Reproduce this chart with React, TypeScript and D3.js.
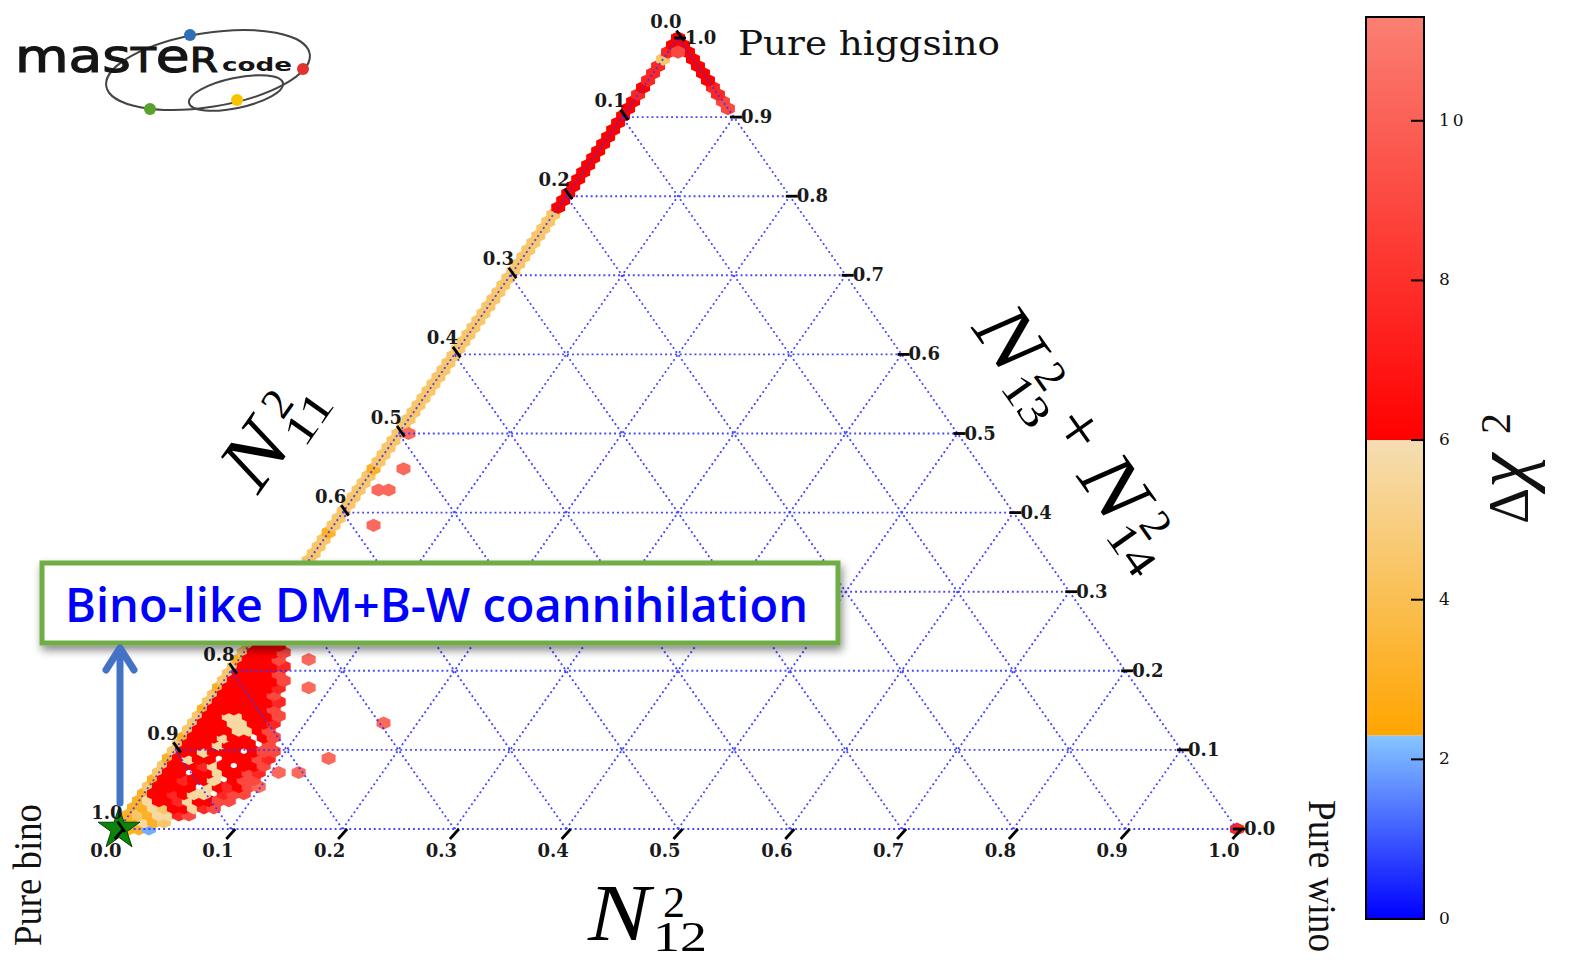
import React from "react";
import * as d3 from "d3";

// ---------------- data ----------------
// Hexbin lattice: GRID cells per unit along each ternary axis.
const GRID = 112;

// Axis tick values (fractions)
const axisTicks = [0, 0.1, 0.2, 0.3, 0.4, 0.5, 0.6, 0.7, 0.8, 0.9, 1.0];

// Colour bar
const colorbarTicks = [0, 2, 4, 6, 8, 10];
const chi2Breaks = [0, 2.3, 6, 11.3];

// Δχ² value carried by each cell code
const levelChi2: Record<string, number> = {
  B: 2.0,
  O: 3.1,
  Y: 4.5,
  T: 5.6,
  R: 6.2,
  r: 7.6,
  S: 9.0,
  s: 10.3,
};

// Cells along the pure-bino / pure-higgsino edge (N12² = 0), row j = c·GRID
const binoEdge =
  "OOOOOO" +
  "YOYYOYYOYYYOYYOYYYOYYOYYY" +
  "YYYYOYYYYYYOYYYYYYYYOYYYYYYYYY" +
  "YYYYYYYYYYYYYYYYYYYYYYYYYYY" +
  "RRRRRRRRRRRRRRRR" +
  "rRrrr" +
  "Y" +
  "rRR";

// Cells along the wino-higgsino edge (N11² = 0), starting at row winoEdgeStart
const winoEdgeStart = 102;
const winoEdge = "SSrrRRRRRRR";

// Bino-like region near the bino corner: row j, columns k = 1, 2, ...
const binoCluster = [
  "OOB",
  "OTOY",
  "YOTTrS",
  "OTYRRTrS",
  "TRRrTRRSS",
  "RRrRTT.rSS",
  "RRRR.TRrRSs",
  "RRrRRT.RSS",
  "RR.RRTRRSr.s.s",
  "RRRrTR.RRS",
  "RTRR.RRRSr.....s",
  "RRTRRR.RSS",
  "RRRTRRR.S",
  "RRRTRR.RS",
  "RRRRTTRS",
  "RRRTTRRr..........s",
  "RRTTRRRS",
  "RRRRRRS",
  "RRRRRRr",
  "RRRRRS",
  "RRRRRr..s",
  "RRRRRS",
  "RRRRS",
  "RRRRr",
  "RRRS..s",
  "RRRS",
  "RRR",
];

// Isolated cells: [row j, column k, code]
const isolatedCells: [number, number, string][] = [
  [51, 3, "s"],
  [48, 2, "s"],
  [48, 3, "s"],
  [43, 4, "s"],
  [56, 1, "s"],
  [110, 1, "S"],
  [0, 112, "r"],
];

// Best-fit point (N12², N13²+N14²)
const bestFit = { b: 0, c: 0 };

// ---------------- styles ----------------
const segColors: [string, string][] = [
  ["#0000ff", "#86c6ff"],
  ["#ffa500", "#f5deb3"],
  ["#ff0000", "#fa8072"],
];
const GRID_BLUE = "#3232ff";
const SERIF = "'DejaVu Serif', serif";
const TIMES = "'Liberation Serif', 'Times New Roman', serif";

function chi2Color(v: number): string {
  const i = v < chi2Breaks[1] ? 0 : v < chi2Breaks[2] ? 1 : 2;
  const s = d3
    .scaleLinear<string>()
    .domain([chi2Breaks[i], chi2Breaks[i + 1]])
    .range(segColors[i])
    .interpolate(d3.interpolateRgb)
    .clamp(true);
  return s(v);
}

// annotation box geometry
const BOX = { x: 42, y: 563, w: 796, h: 80 };

export default function App() {
  const W = 1572;
  const H = 960;

  const x = d3.scaleLinear().domain([0, 1]).range([119, 1237]);
  const y = d3.scaleLinear().domain([0, 1]).range([829, 38]);
  // ternary (b = N12², c = N13²+N14²) -> screen
  const proj = (b: number, c: number): [number, number] => [x(b + c / 2), y(c)];

  // build hexbin cells
  type Cell = { b: number; c: number; v: number };
  const cells: Cell[] = [];
  binoEdge.split("").forEach((ch, j) => {
    if (ch !== ".") cells.push({ b: 0, c: j / GRID, v: levelChi2[ch] });
  });
  winoEdge.split("").forEach((ch, i) => {
    const j = winoEdgeStart + i;
    if (ch !== ".") cells.push({ b: (GRID - j) / GRID, c: j / GRID, v: levelChi2[ch] });
  });
  binoCluster.forEach((row, j) => {
    row.split("").forEach((ch, i) => {
      if (ch !== ".") cells.push({ b: (i + 1) / GRID, c: j / GRID, v: levelChi2[ch] });
    });
  });
  isolatedCells.forEach(([j, k, ch]) => cells.push({ b: k / GRID, c: j / GRID, v: levelChi2[ch] }));

  const hexScale = 1.4;
  const halfW = ((x(1 / GRID) - x(0)) / 2) * hexScale;
  const rv = ((y(0) - y(1 / GRID)) / 1.5) * hexScale;
  const hexLine = d3.line();
  const hexPath = (cx: number, cy: number) =>
    hexLine([
      [cx, cy - rv],
      [cx + halfW, cy - rv / 2],
      [cx + halfW, cy + rv / 2],
      [cx, cy + rv],
      [cx - halfW, cy + rv / 2],
      [cx - halfW, cy - rv / 2],
    ]) + "Z";

  // ternary grid
  const gridLines = axisTicks.flatMap((t) => [
    [proj(0, t), proj(1 - t, t)],
    [proj(t, 0), proj(t, 1 - t)],
    [proj(1 - t, 0), proj(0, 1 - t)],
  ]);

  const fmt = d3.format(".1f");
  const underBox = (px: number, py: number) =>
    px > BOX.x && px < BOX.x + BOX.w && py > BOX.y && py < BOX.y + BOX.h + 8;

  // colour bar
  const cb = d3.scaleLinear().domain([0, chi2Breaks[3]]).range([919, 17]);
  const cbX = 1366;
  const cbW = 58;

  const [sx, sy] = proj(bestFit.b, bestFit.c);
  const star = d3.symbol(d3.symbolStar, 540)();

  // axis title builder: N^2_{sub}
  const nTerm = (x0: number, sub: string, key: string) => (
    <g key={key}>
      <text x={x0} y={0} fontFamily={TIMES} fontStyle="italic" fontSize={80} textLength={62} lengthAdjust="spacingAndGlyphs">
        N
      </text>
      <text x={x0 + 75} y={-23} fontFamily={TIMES} fontSize={44}>
        2
      </text>
      <text x={x0 + 65} y={11} fontFamily={TIMES} fontSize={43} textLength={54} lengthAdjust="spacingAndGlyphs">
        {sub}
      </text>
    </g>
  );

  return (
    <svg
      width={W}
      height={H}
      viewBox={`0 0 ${W} ${H}`}
      style={{ position: "absolute", left: 0, top: 0, background: "#fff" }}
    >
      <defs>
        {segColors.map((cs, i) => (
          <linearGradient key={i} id={`cbseg${i}`} x1="0" y1="1" x2="0" y2="0">
            <stop offset="0" stopColor={cs[0]} />
            <stop offset="1" stopColor={cs[1]} />
          </linearGradient>
        ))}
        <filter id="boxShadow" x="-5%" y="-20%" width="110%" height="160%">
          <feDropShadow dx="2" dy="5" stdDeviation="4" floodColor="#000" floodOpacity="0.45" />
        </filter>
        <filter id="soft" x="-2%" y="-2%" width="104%" height="104%">
          <feGaussianBlur stdDeviation="0.7" />
        </filter>
      </defs>
      <rect x={0} y={0} width={W} height={H} fill="#fff" />

      {/* hexbin cells */}
      <g filter="url(#soft)">
        {cells.map((d, i) => {
          const [cx, cy] = proj(d.b, d.c);
          return <path key={i} d={hexPath(cx, cy)} fill={chi2Color(d.v)} />;
        })}
      </g>

      {/* dotted ternary grid */}
      <g stroke={GRID_BLUE} strokeWidth={1.9} strokeDasharray="1.9 3" opacity={0.9}>
        {gridLines.map((l, i) => (
          <line key={i} x1={l[0][0]} y1={l[0][1]} x2={l[1][0]} y2={l[1][1]} />
        ))}
      </g>

      {/* best-fit star */}
      <path d={star || ""} transform={`translate(${sx},${sy})`} fill="#0a850a" stroke="#054005" strokeWidth={1} />

      {/* ticks */}
      <g stroke="#000" strokeWidth={2.8}>
        {axisTicks.map((t) => {
          const [bx, by] = proj(t, 0);
          const [lx, ly] = proj(0, 1 - t);
          const [rx, ry] = proj(1 - t, t);
          return (
            <g key={t}>
              <line x1={bx + 4.5} y1={by} x2={bx - 4.5} y2={by + 10} />
              <line x1={lx + 6} y1={ly + 3} x2={lx - 1.5} y2={ly - 7.5} />
              <line x1={rx - 4} y1={ry} x2={rx + 8} y2={ry} />
            </g>
          );
        })}
      </g>
      <g fontFamily={SERIF} fontSize={18} fontWeight="bold" fill="#1a1a1a">
        {axisTicks.map((t) => {
          const [bx] = proj(t, 0);
          const [lx, ly] = proj(0, 1 - t);
          const [rx, ry] = proj(1 - t, t);
          return (
            <g key={t}>
              <text x={bx - 13} y={857} textAnchor="middle">
                {fmt(t)}
              </text>
              {!underBox(lx - 12, ly - 10) && (
                <text x={lx - 12} y={ly - 10} textAnchor="middle">
                  {fmt(t)}
                </text>
              )}
              <text x={rx + 7} y={ry + 6}>
                {fmt(t)}
              </text>
            </g>
          );
        })}
      </g>

      {/* axis titles */}
      <g transform="translate(278,436) rotate(-54.75) translate(-60,18)">{nTerm(0, "11", "a")}</g>
      <g transform="translate(588,940)">{nTerm(0, "12", "b")}</g>
      <g transform="translate(1072,440) rotate(54.75) translate(-150,18)">
        {nTerm(0, "13", "c1")}
        <text x={126} y={-8} fontFamily={TIMES} fontSize={68}>
          +
        </text>
        {nTerm(182, "14", "c2")}
      </g>

      {/* corner labels */}
      <text x={738} y={55} fontFamily={SERIF} fontSize={34} textLength={262} lengthAdjust="spacingAndGlyphs" fill="#111">
        Pure higgsino
      </text>
      <text
        transform="translate(41,946) rotate(-90)"
        fontFamily={TIMES}
        fontSize={40}
        textLength={142}
        lengthAdjust="spacingAndGlyphs"
        fill="#111"
      >
        Pure bino
      </text>
      <text
        transform="translate(1309,800) rotate(90)"
        fontFamily={TIMES}
        fontSize={39}
        textLength={152}
        lengthAdjust="spacingAndGlyphs"
        fill="#111"
      >
        Pure wino
      </text>

      {/* colour bar */}
      <g>
        {segColors.map((_, i) => (
          <rect
            key={i}
            x={cbX}
            y={cb(chi2Breaks[i + 1])}
            width={cbW}
            height={cb(chi2Breaks[i]) - cb(chi2Breaks[i + 1])}
            fill={`url(#cbseg${i})`}
          />
        ))}
        <rect x={cbX} y={cb(chi2Breaks[3])} width={cbW} height={cb(0) - cb(chi2Breaks[3])} fill="none" stroke="#000" strokeWidth={2} />
        {colorbarTicks.map((t) => (
          <g key={t}>
            <line x1={cbX + cbW - 13} x2={cbX + cbW} y1={cb(t)} y2={cb(t)} stroke="#000" strokeWidth={2} />
            <text x={1439} y={cb(t) + 5} fontFamily={SERIF} fontSize={17} letterSpacing={3} fill="#111">
              {t}
            </text>
          </g>
        ))}
        <g transform="translate(1528,524) rotate(-90)" fill="#111">
          <text x={0} y={0} fontFamily={TIMES} fontSize={56}>
            Δ
          </text>
          <text x={36} y={0} fontFamily={TIMES} fontStyle="italic" fontSize={78}>
            χ
          </text>
          <text x={90} y={-18} fontFamily={TIMES} fontSize={42}>
            2
          </text>
        </g>
      </g>

      {/* logo */}
      <g>
        <ellipse cx={208} cy={70} rx={103} ry={37} transform="rotate(-9,208,70)" fill="none" stroke="#444" strokeWidth={2} />
        <ellipse cx={236} cy={93} rx={48} ry={15} transform="rotate(-12,236,93)" fill="none" stroke="#444" strokeWidth={2} />
        <text x={15} y={72} fontFamily="'DejaVu Sans', sans-serif" fill="#151515" stroke="#151515" strokeWidth={1.2} textLength={203} lengthAdjust="spacingAndGlyphs">
          <tspan fontSize={46}>mas</tspan>
          <tspan fontSize={34}>T</tspan>
          <tspan fontSize={46}>e</tspan>
          <tspan fontSize={34}>R</tspan>
        </text>
        <text x={222} y={71} fontFamily="'DejaVu Sans', sans-serif" fontWeight="bold" fontSize={18} fill="#151515" textLength={70} lengthAdjust="spacingAndGlyphs">
          code
        </text>
        <circle cx={190} cy={35} r={6} fill="#2f6fb8" />
        <circle cx={303} cy={69} r={6} fill="#e0332f" />
        <circle cx={237} cy={100} r={6} fill="#f6c500" />
        <circle cx={150} cy={109} r={6} fill="#5aa02c" />
      </g>

      {/* annotation */}
      <rect x={BOX.x} y={BOX.y} width={BOX.w} height={BOX.h} fill="#fff" stroke="#70ad47" strokeWidth={5} filter="url(#boxShadow)" />
      <text
        x={65}
        y={622}
        fontFamily="'Open Sans', 'Noto Sans', sans-serif"
        fontWeight={600}
        fontSize={47}
        fill="#0000ff"
        textLength={743}
        lengthAdjust="spacingAndGlyphs"
      >
        Bino-like DM+B-W coannihilation
      </text>
      <g stroke="#4472c4" strokeWidth={7} fill="none" strokeLinecap="round" strokeLinejoin="round">
        <line x1={120} y1={803} x2={120} y2={650} />
        <polyline points="106,670 120,648 134,670" />
      </g>
    </svg>
  );
}
